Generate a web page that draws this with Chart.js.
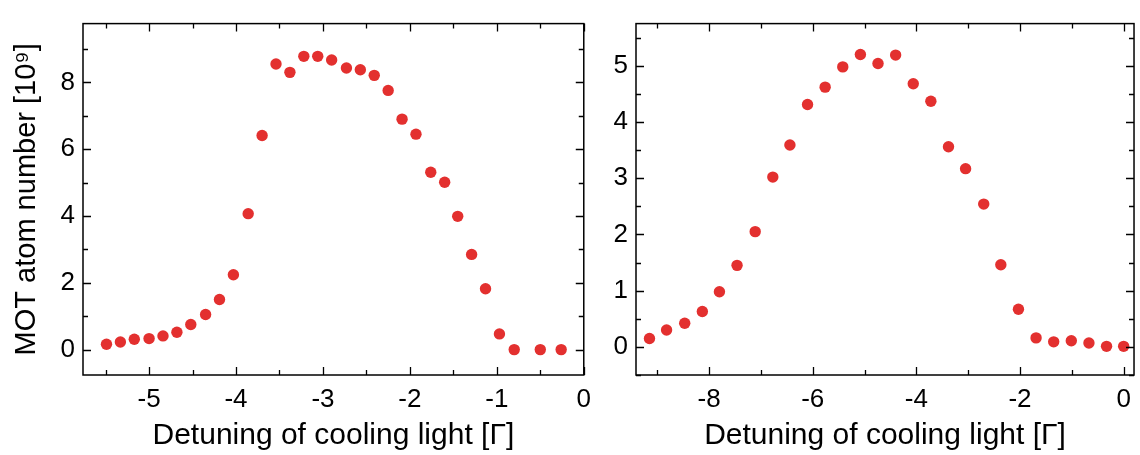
<!DOCTYPE html>
<html>
<head>
<meta charset="utf-8">
<script src="https://cdn.jsdelivr.net/npm/chart.js@4.4.1/dist/chart.umd.min.js"></script>
<style>
  html, body { margin: 0; padding: 0; background: #fff; }
  #wrap { position: relative; width: 1140px; height: 455px; }
  #left { position: absolute; left: 0; top: 0; }
  #right { position: absolute; left: 600px; top: 0; }
</style>
</head>
<body>
<div id="wrap">
  <canvas id="left" width="600" height="455"></canvas>
  <canvas id="right" width="540" height="455"></canvas>
</div>
<script>
// left panel: detuning [Gamma] vs MOT atom number [1e9]
const leftDetuning = [-5.49, -5.33, -5.17, -5.00, -4.84, -4.68, -4.52, -4.35, -4.19, -4.03,
                      -3.86, -3.70, -3.54, -3.38, -3.22, -3.06, -2.90, -2.73, -2.57, -2.41,
                      -2.25, -2.09, -1.93, -1.76, -1.60, -1.45, -1.29, -1.13, -0.97, -0.80,
                      -0.50, -0.26];
const leftAtoms = [0.16, 0.23, 0.31, 0.33, 0.41, 0.52, 0.75, 1.05, 1.50, 2.24,
                   4.07, 6.41, 8.55, 8.30, 8.78, 8.78, 8.67, 8.43, 8.38, 8.21,
                   7.76, 6.90, 6.45, 5.31, 5.01, 3.99, 2.85, 1.82, 0.47, 0.00,
                   0.00, 0.00];

// right panel
const rightDetuning = [-9.15, -8.82, -8.47, -8.13, -7.80, -7.46, -7.11, -6.77, -6.44, -6.10,
                       -5.76, -5.42, -5.08, -4.74, -4.40, -4.06, -3.72, -3.38, -3.05, -2.70,
                       -2.37, -2.03, -1.69, -1.35, -1.01, -0.67, -0.33, 0.00];
const rightAtoms = [0.15, 0.30, 0.42, 0.63, 0.98, 1.45, 2.05, 3.02, 3.59, 4.31,
                    4.62, 4.98, 5.20, 5.04, 5.19, 4.68, 4.37, 3.56, 3.17, 2.54,
                    1.46, 0.67, 0.16, 0.09, 0.11, 0.07, 0.01, 0.01];

const xTitle = 'Detuning of cooling light [Γ]';
const yTitle = 'MOT atom number [10⁹]';

const FONT = "'Liberation Sans', Arial, sans-serif";
const dotColor = '#e3302f';

// frame + inward ticks on all four sides
const framePlugin = {
  id: 'frame',
  afterDraw(chart, args, opts) {
    const { ctx, chartArea: a, scales } = chart;
    const xs = scales.x, ys = scales.y;
    ctx.save();
    ctx.strokeStyle = '#000';
    ctx.lineWidth = 1.5;
    ctx.strokeRect(a.left, a.top, a.right - a.left, a.bottom - a.top);
    ctx.lineWidth = 1.3;
    ctx.beginPath();
    const xMinor = opts.xMinor, yMinor = opts.yMinor;
    for (let v = Math.ceil(xs.min / xMinor) * xMinor; v <= xs.max + 1e-9; v += xMinor) {
      const major = Math.abs(v / (xMinor * 2) - Math.round(v / (xMinor * 2))) < 1e-6;
      const len = major ? 8 : 5;
      const px = Math.round(xs.getPixelForValue(v)) + 0.5;
      ctx.moveTo(px, a.bottom); ctx.lineTo(px, a.bottom - len);
      ctx.moveTo(px, a.top); ctx.lineTo(px, a.top + len);
    }
    for (let v = Math.ceil(ys.min / yMinor) * yMinor; v <= ys.max + 1e-9; v += yMinor) {
      const major = Math.abs(v / (yMinor * 2) - Math.round(v / (yMinor * 2))) < 1e-6;
      const len = major ? 8 : 5;
      const py = Math.round(ys.getPixelForValue(v)) + 0.5;
      ctx.moveTo(a.left, py); ctx.lineTo(a.left + len, py);
      ctx.moveTo(a.right, py); ctx.lineTo(a.right - len, py);
    }
    ctx.stroke();
    ctx.restore();
  }
};

function makeChart(id, xs, ys, cfg) {
  const points = xs.map((x, i) => ({ x: x, y: ys[i] }));
  return new Chart(document.getElementById(id), {
    type: 'scatter',
    data: {
      datasets: [{
        data: points,
        backgroundColor: dotColor,
        borderWidth: 0,
        pointRadius: 5.7,
        pointHoverRadius: 5.7
      }]
    },
    options: {
      responsive: false,
      animation: false,
      layout: { padding: { left: 0, top: 7, right: cfg.padRight, bottom: 0 } },
      plugins: {
        legend: { display: false },
        tooltip: { enabled: false },
        frame: { xMinor: cfg.xMinor, yMinor: cfg.yMinor }
      },
      scales: {
        x: {
          type: 'linear',
          min: cfg.xMin, max: cfg.xMax,
          grid: { display: false, drawTicks: false },
          border: { display: false },
          ticks: { stepSize: cfg.xStep, includeBounds: false, color: '#000', padding: 9,
                   font: { family: FONT, size: 26 } },
          title: { display: true, text: xTitle, color: '#000', padding: { top: 0, bottom: 1 },
                   font: { family: FONT, size: 30 } },
          afterFit(scale) { scale.height = 80; }
        },
        y: {
          type: 'linear',
          min: cfg.yMin, max: cfg.yMax,
          grid: { display: false, drawTicks: false },
          border: { display: false },
          ticks: { stepSize: cfg.yStep, includeBounds: false, color: '#000', padding: 8,
                   font: { family: FONT, size: 26 } },
          title: { display: cfg.showYTitle, text: yTitle, color: '#000', padding: { top: 10, bottom: 0 },
                   font: { family: FONT, size: 29 } },
          afterFit(scale) { scale.width = cfg.yWidth; }
        }
      }
    },
    plugins: [framePlugin]
  });
}

makeChart('left', leftDetuning, leftAtoms, {
  xMin: -5.76, xMax: 0, xStep: 1, xMinor: 0.5,
  yMin: -0.76, yMax: 9.76, yStep: 2, yMinor: 1,
  yWidth: 83, padRight: 6, showYTitle: true
});

makeChart('right', rightDetuning, rightAtoms, {
  xMin: -9.41, xMax: 0.2, xStep: 2, xMinor: 1,
  yMin: -0.5, yMax: 5.75, yStep: 1, yMinor: 0.5,
  yWidth: 36, padRight: 2, showYTitle: false
});
</script>
</body>
</html>
